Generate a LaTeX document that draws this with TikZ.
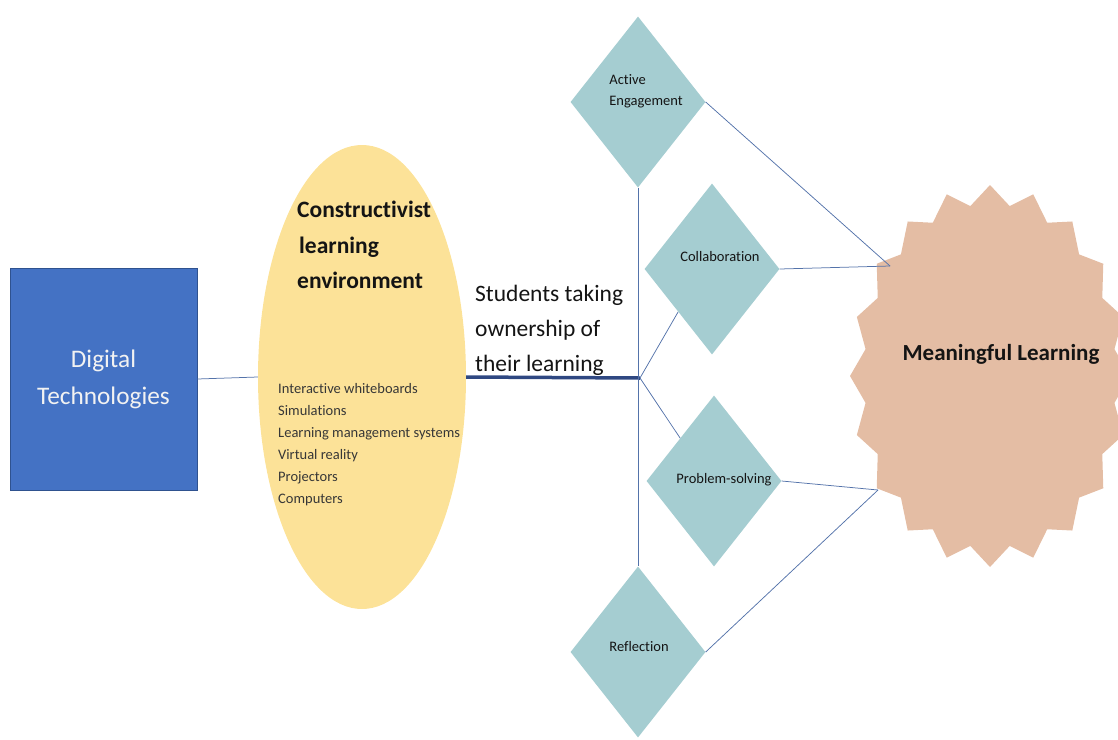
\documentclass[tikz,border=0pt]{standalone}
\usepackage{fontspec}
\setmainfont{Carlito}[Ligatures=NoCommon]
\usetikzlibrary{shapes.geometric}
\definecolor{boxblue}{RGB}{68,114,196}
\definecolor{boxedge}{RGB}{47,82,143}
\definecolor{ellfill}{RGB}{252,226,152}
\definecolor{diafill}{RGB}{165,205,209}
\definecolor{starfill}{RGB}{228,189,164}
\definecolor{linkblue}{RGB}{84,115,170}
\definecolor{thickblue}{RGB}{47,72,130}
\definecolor{txt}{RGB}{20,20,20}
\tikzset{
  techbox/.style={rectangle, fill=boxblue, draw=boxedge, line width=0.8pt, minimum width=187pt, minimum height=222pt, inner sep=0pt},
  envell/.style={ellipse, fill=ellfill, draw=none, minimum width=208pt, minimum height=464pt, inner sep=0pt},
  diabox/.style={diamond, fill=diafill, draw=none, minimum width=135pt, minimum height=171pt, inner sep=0pt},
  dlabel/.style={font=\fontsize{14.5}{21}\selectfont, text=txt, inner sep=0pt},
  link/.style={draw=linkblue, line width=0.75pt},
  thicklink/.style={draw=thickblue, line width=3.5pt},
}
\begin{document}
\begin{tikzpicture}[x=1pt, y=-1pt]
\useasboundingbox (0,0) rectangle (1118,739);
% star (20 points)
\fill[starfill] plot[samples=40, domain=0:39, variable=\k]
  ({990+ifthenelse(mod(round(\k),2)==0,140,126)*cos(9*\k)},
   {376+ifthenelse(mod(round(\k),2)==0,191,172)*sin(9*\k)}) -- cycle;
\node[font=\fontsize{23}{26}\selectfont\bfseries, text=txt, inner sep=0pt] (ml) at (1001,354) {Meaningful Learning};
\coordinate (s1) at (890,266);
\coordinate (s2) at (878,490);

% left box
\node[techbox, text=white!95!black, font=\fontsize{25.3}{37}\selectfont, align=center] (dt) at (103.5,379) {Digital\\Technologies};

% ellipse
\node[envell] (ce) at (362,377) {};
\node[anchor=west, align=left, font=\fontsize{23.5}{35.5}\selectfont\bfseries, text=txt, inner sep=0pt] (cet) at (297,245)
  {Constructivist\\\hspace{2pt}learning\\environment};
\node[anchor=west, align=left, font=\fontsize{14.5}{22}\selectfont, text=txt!85!white, inner sep=0pt] (cel) at (278,445)
  {Interactive whiteboards\\Simulations\\Learning management systems\\Virtual reality\\Projectors\\Computers};

% students text
\node[anchor=west, align=left, font=\fontsize{23.5}{35}\selectfont, text=txt, inner sep=0pt] (st) at (475,330)
  {Students taking\\ownership of\\their learning};

% diamonds
\node[diabox] (ae) at (638,102) {};
\node[diabox] (co) at (712,269) {};
\node[diabox] (ps) at (714,481) {};
\node[diabox] (rf) at (638,652) {};
\node[dlabel, align=left] (aet) at (646,91) {Active\\Engagement};
\node[dlabel] (cot) at (720,257) {Collaboration};
\node[dlabel] (pst) at (724,480) {Problem-solving};
\node[dlabel] (rft) at (639,647) {Reflection};

\coordinate (j) at (640,378);

% connectors
\draw[link] (dt.east) -- (ce.west);
\draw[thicklink] (ce.east) -- (j);
\draw[link] (ae.south) -- (rf.north);
\draw[link] (j) -- (co.south west);
\draw[link] (j) -- (ps.north west);
\draw[link] (ae.east) -- (s1);
\draw[link] (co.east) -- (s1);
\draw[link] (ps.east) -- (s2);
\draw[link] (rf.east) -- (s2);
\end{tikzpicture}
\end{document}
